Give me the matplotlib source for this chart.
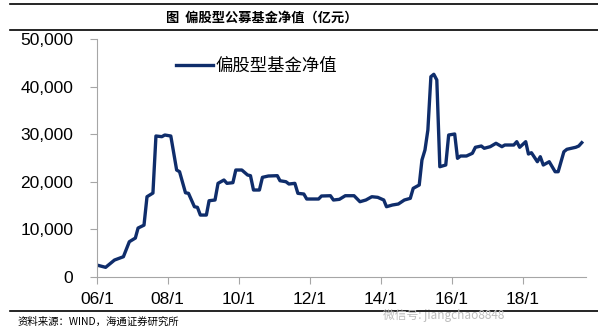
import matplotlib
matplotlib.use("Agg")
import matplotlib.pyplot as plt
import matplotlib.dates as mdates
from matplotlib.lines import Line2D
from matplotlib.ticker import FuncFormatter
import pandas as pd

plt.rcParams['font.family'] = ['Liberation Sans', 'Noto Sans CJK SC']

# monthly readings of the net value of equity-oriented funds (100 million yuan)
months = [
    '2006-01', '2006-04', '2006-07', '2006-10', '2006-12', '2007-02', '2007-03',
    '2007-05', '2007-06', '2007-08', '2007-09', '2007-11', '2007-12', '2008-02',
    '2008-04', '2008-05', '2008-07', '2008-08', '2008-10', '2008-11', '2008-12',
    '2009-02', '2009-03', '2009-05', '2009-06', '2009-08', '2009-09', '2009-11',
    '2009-12', '2010-02', '2010-04', '2010-05', '2010-06', '2010-08', '2010-09',
    '2010-11', '2011-02', '2011-03', '2011-05', '2011-06', '2011-08', '2011-09',
    '2011-11', '2011-12', '2012-04', '2012-05', '2012-08', '2012-09', '2012-11',
    '2013-01', '2013-04', '2013-06', '2013-08', '2013-10', '2013-12', '2014-02',
    '2014-03', '2014-05', '2014-07', '2014-09', '2014-11', '2014-12', '2015-02',
    '2015-03', '2015-04', '2015-05', '2015-06', '2015-07', '2015-08', '2015-09',
    '2015-11', '2015-12', '2016-02', '2016-03', '2016-04', '2016-06', '2016-08',
    '2016-09', '2016-11', '2016-12', '2017-02', '2017-04', '2017-06', '2017-07',
    '2017-10', '2017-11', '2017-12', '2018-02', '2018-03', '2018-04', '2018-06',
    '2018-07', '2018-08', '2018-10', '2018-12', '2019-01', '2019-03', '2019-04',
    '2019-07', '2019-08', '2019-09',
]
net_value = [
    2520, 2040, 3570, 4270, 7420, 8190, 10290,
    10900, 16870, 17640, 29620, 29480, 29830, 29620,
    22480, 22120, 17700, 17580, 14770, 14640, 13020,
    13020, 16030, 16180, 19680, 20380, 19680, 19820,
    22480, 22480, 21430, 21290, 18280, 18280, 20940,
    21220, 21290, 20230, 20020, 19540, 19680, 17580,
    17440, 16390, 16390, 17020, 17080, 16180, 16320,
    17080, 17080, 15820, 16180, 16870, 16740, 16180,
    14770, 15130, 15340, 16180, 16530, 18630, 19330,
    24580, 26680, 30880, 42080, 42580, 41390, 23170,
    23530, 29830, 30040, 24930, 25420, 25420, 25990,
    27250, 27520, 27040, 27380, 28090, 27380, 27730,
    27730, 28430, 27250, 28430, 25840, 26110, 24220,
    25270, 23530, 24220, 22120, 22120, 26320, 26830,
    27250, 27520, 28220,
]
series_name = '偏股型基金净值'
title = '图  偏股型公募基金净值（亿元）'
source = '资料来源：WIND，海通证券研究所'

dates = pd.to_datetime(months)

fig = plt.figure(figsize=(5.98, 3.33), dpi=100)
ax = fig.add_axes([0.162, 0.168, 0.818, 0.715])

ax.plot(dates, net_value, color='#0f2d6b', linewidth=2.4, label=series_name)

ax.set_ylim(0, 50000)
ax.set_yticks(range(0, 50001, 10000))
ax.yaxis.set_major_formatter(FuncFormatter(lambda v, p: f'{v:,.0f}'))
ax.set_xlim(pd.Timestamp('2006-01-01'), pd.Timestamp('2019-10-15'))
ax.xaxis.set_major_locator(mdates.YearLocator(2, month=1, day=1))
ax.xaxis.set_major_formatter(FuncFormatter(
    lambda v, p: f'{mdates.num2date(v).year % 100:02d}/{mdates.num2date(v).month}'))

for side in ['top', 'right']:
    ax.spines[side].set_visible(False)
for side in ['left', 'bottom']:
    ax.spines[side].set_color('#a6a6a6')
ax.tick_params(axis='both', colors='#a6a6a6', length=5, labelsize=12.5, labelcolor='black')
ax.tick_params(axis='x', pad=6)
ax.tick_params(axis='y', pad=12)

leg = ax.legend(loc='upper left', bbox_to_anchor=(0.13, 0.99), frameon=False,
                handlelength=2.1, handletextpad=0.15,
                prop={'family': ['Noto Sans CJK SC'], 'size': 12.5})

# header and footer rules
fig.add_artist(Line2D([0.017, 1.0], [0.988, 0.988], color='black', linewidth=1.2))
fig.add_artist(Line2D([0.017, 1.0], [0.910, 0.910], color='black', linewidth=1.2))
fig.add_artist(Line2D([0.017, 1.0], [0.066, 0.066], color='black', linewidth=1.2))

fig.text(0.438, 0.948, title, ha='center', va='center', fontsize=9.5,
         fontweight='bold', family=['Noto Sans CJK SC'])
fig.text(0.03, 0.033, source, ha='left', va='center', fontsize=7.5,
         family=['Noto Sans CJK SC', 'DejaVu Sans'])
fig.text(0.64, 0.052, '微信号: jiangchao8848', ha='left', va='center', fontsize=8.5,
         color='#bdbdbd', family=['Noto Sans CJK SC', 'DejaVu Sans'])

fig.savefig('out.png', dpi=100)
